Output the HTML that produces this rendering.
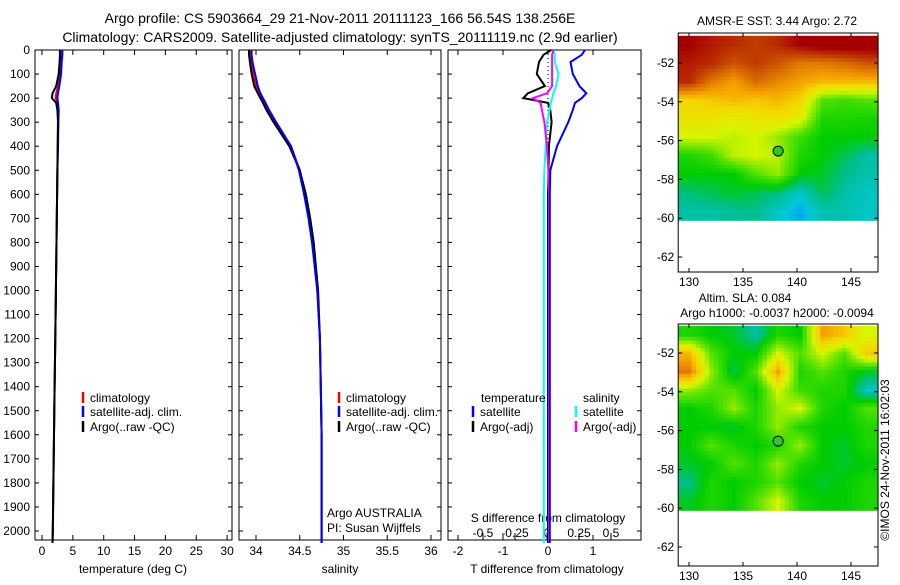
<!DOCTYPE html>
<html><head><meta charset="utf-8"><style>
body{margin:0;background:#fff;}
svg text{font-family:"Liberation Sans",sans-serif;font-size:12px;fill:#000;}
</style></head><body>
<svg id="fig" width="900" height="580" xmlns="http://www.w3.org/2000/svg">
<text x="340" y="23" text-anchor="middle" style="font-size:14px">Argo profile: CS 5903664_29 21-Nov-2011 20111123_166 56.54S 138.256E</text>
<text x="340" y="42" text-anchor="middle" style="font-size:14px">Climatology: CARS2009. Satellite-adjusted climatology: synTS_20111119.nc (2.9d earlier)</text>
<g id="g"></g>
</svg>
<script>
const depths=[0,20,50,100,150,180,200,220,250,300,400,500,600,700,800,1000,1200,1400,1600,1800,2000,2050];
const tempArgo=[2.9,2.9,2.85,2.7,2.3,1.7,1.6,2.3,2.5,2.6,2.55,2.5,2.45,2.4,2.35,2.25,2.15,2.05,1.95,1.85,1.75,1.7];
const tempClim=[3.1,3.05,3.0,2.9,2.6,2.3,2.2,2.5,2.6,2.6,2.55,2.5,2.45,2.4,2.35,2.25,2.15,2.05,1.95,1.85,1.75,1.7];
const tempSat=[3.3,3.3,3.2,3.1,2.8,2.6,2.5,2.6,2.7,2.65,2.6,2.5,2.45,2.4,2.35,2.25,2.15,2.05,1.95,1.85,1.75,1.7];
const salArgo=[33.92,33.92,33.93,33.95,33.98,34.02,34.05,34.08,34.12,34.2,34.38,34.5,34.57,34.62,34.66,34.71,34.73,34.74,34.75,34.75,34.75,34.75];
const salClim=[33.93,33.93,33.94,33.97,34.0,34.04,34.07,34.1,34.14,34.22,34.4,34.5,34.56,34.61,34.65,34.7,34.73,34.74,34.75,34.75,34.75,34.75];
const salSat=[33.95,33.95,33.96,33.99,34.02,34.05,34.08,34.11,34.15,34.23,34.4,34.49,34.55,34.6,34.64,34.7,34.73,34.74,34.75,34.75,34.75,34.75];
const tDiffArgo=[0.07,-0.1,-0.2,-0.25,-0.07,-0.45,-0.55,0.0,0.05,0.08,0.02,0.01,0,0,0,0,0,0,0,0,0,0];
const tDiffSat=[0.82,0.75,0.5,0.55,0.7,0.85,0.75,0.6,0.55,0.45,0.2,0.05,0.04,0.04,0.04,0.04,0.04,0.04,0.04,0.04,0.04,0.04];
const sDiffArgo=[0.05,0.04,0.04,0.04,0.04,0.0,-0.11,-0.05,-0.04,-0.02,0.0,0.01,0.015,0.015,0.015,0.015,0.015,0.015,0.015,0.015,0.015,0.015];
const sDiffSat=[0.05,0.06,0.06,0.09,0.07,0.05,0.04,0.03,0.02,0.0,-0.01,-0.02,-0.025,-0.025,-0.025,-0.025,-0.025,-0.025,-0.025,-0.025,-0.025,-0.025];
const depthTicks=[0,100,200,300,400,500,600,700,800,900,1000,1100,1200,1300,1400,1500,1600,1700,1800,1900,2000];
const tempTicks=[0,5,10,15,20,25,30];
const salTicks=[34,34.5,35,35.5,36];
const tDiffTicks=[-2,-1,0,1];
const sDiffTicks=[-0.5,-0.25,0,0.25,0.5];
const lonTicks=[130,135,140,145];
const latTicks=[-52,-54,-56,-58,-60,-62];
const sstGrid=[
[0.95,0.92,0.9,0.88,0.9,0.95,0.98,0.98,0.98],
[0.92,0.9,0.85,0.88,0.85,0.8,0.8,0.82,0.85],
[0.9,0.8,0.75,0.82,0.78,0.75,0.72,0.72,0.72],
[0.68,0.7,0.72,0.7,0.72,0.68,0.5,0.48,0.5],
[0.65,0.65,0.62,0.65,0.66,0.62,0.45,0.45,0.44],
[0.6,0.6,0.58,0.6,0.55,0.48,0.42,0.42,0.42],
[0.45,0.48,0.58,0.6,0.58,0.45,0.42,0.38,0.33],
[0.42,0.42,0.42,0.5,0.55,0.42,0.4,0.35,0.32],
[0.36,0.38,0.4,0.38,0.36,0.3,0.38,0.33,0.3],
[0.33,0.33,0.34,0.35,0.3,0.25,0.32,0.32,0.3]];
const slaGrid=[
[0.45,0.42,0.4,0.33,0.45,0.42,0.75,0.7,0.6],
[0.72,0.5,0.42,0.42,0.6,0.5,0.6,0.5,0.7],
[0.8,0.55,0.38,0.5,0.75,0.45,0.5,0.45,0.4],
[0.55,0.5,0.5,0.42,0.6,0.48,0.45,0.45,0.3],
[0.42,0.45,0.55,0.45,0.55,0.6,0.45,0.42,0.5],
[0.42,0.42,0.4,0.45,0.55,0.45,0.42,0.42,0.45],
[0.42,0.5,0.45,0.42,0.45,0.55,0.42,0.4,0.45],
[0.4,0.42,0.5,0.45,0.55,0.45,0.42,0.4,0.42],
[0.35,0.45,0.42,0.45,0.5,0.42,0.4,0.42,0.45],
[0.4,0.45,0.42,0.5,0.6,0.45,0.42,0.42,0.45]];
const argoLon=138.256, argoLat=-56.54;

const NS="http://www.w3.org/2000/svg", G=document.getElementById('g');
function mk(t,a,p){const e=document.createElementNS(NS,t);for(const k in a)e.setAttribute(k,a[k]);(p||G).appendChild(e);return e;}
function txt(x,y,s,anc,p){const e=mk('text',{x:x,y:y,'text-anchor':anc||'middle'},p);e.textContent=s;return e;}
const yD=d=>50+d*0.2405;
const xT=v=>42+v*6.17, xS=v=>256+(v-34)*87.5, xTD=v=>548+v*45, xSD=v=>547+v*128;

function panel(x0,x1,name){
  const r=mk('rect',{x:x0,y:50,width:x1-x0,height:490,fill:'none',stroke:'#000'});
  
  
}
function line(xf,vals,col,name){
  const pts=depths.map((d,i)=>xf(vals[i]).toFixed(1)+','+yD(d).toFixed(1)).join(' ');
  const e=mk('polyline',{points:pts,fill:'none',stroke:col,'stroke-width':2});
  
  
}
panel(35,232,'temperature-panel');panel(239,441,'salinity-panel');panel(448,641,'difference-panel');
depthTicks.forEach(d=>{
  const t=txt(30,yD(d)+4,String(d),'end');
  
  
  [[35,232],[239,441],[448,641]].forEach(([a,b])=>{mk('line',{x1:a,x2:a+4,y1:yD(d),y2:yD(d),stroke:'#000'});mk('line',{x1:b,x2:b-4,y1:yD(d),y2:yD(d),stroke:'#000'});});
});
function xticks(vals,f,y,lab){
  vals.forEach(v=>{const x=f(v);
    mk('line',{x1:x,x2:x,y1:540,y2:535,stroke:'#000'});mk('line',{x1:x,x2:x,y1:50,y2:55,stroke:'#000'});
    const t=txt(x,y,String(v));
    
    
  });
}
xticks(tempTicks,xT,555,'temp-tick-label');
xticks(salTicks,xS,555,'salinity-tick-label');
xticks(tDiffTicks,xTD,555,'tdiff-tick-label');
sDiffTicks.forEach(v=>{const x=xSD(v);mk('line',{x1:x,x2:x,y1:540,y2:533,stroke:'#000'});
  const t=txt(x,537,String(v));});
mk('line',{x1:548,x2:548,y1:50,y2:540,stroke:'#000','stroke-dasharray':'1,3'});
[['temperature (deg C)',133],['salinity',340],['T difference from climatology',547]].forEach(([s,x])=>{const t=txt(x,573,s);});
const sdt=txt(548,522,'S difference from climatology');

line(xT,tempClim,'#f00','temp-climatology-line');line(xT,tempSat,'#00f','temp-satellite-line');line(xT,tempArgo,'#000','temp-argo-line');
line(xS,salClim,'#f00','sal-climatology-line');line(xS,salArgo,'#000','sal-argo-line');line(xS,salSat,'#00f','sal-satellite-line');
line(xTD,tDiffArgo,'#000','tdiff-argo-line');
line(xSD,sDiffSat,'#0ff','sdiff-satellite-line');line(xSD,sDiffArgo,'#f0f','sdiff-argo-line');
line(xTD,tDiffSat,'#00f','tdiff-satellite-line');

function leg(x,y,col,s,name){mk('line',{x1:x,x2:x,y1:y-10,y2:y+1,stroke:col,'stroke-width':2.5});const t=txt(x+7,y,s,'start');}
[[83],[339]].forEach(([x])=>{leg(x,402,'#f00','climatology','legend-climatology');leg(x,416,'#00f','satellite-adj. clim.','legend-satellite');leg(x,431,'#000','Argo(..raw -QC)','legend-argo');});
txt(481,402,'temperature','start');leg(473,416,'#00f','satellite','legend-t-satellite');leg(473,431,'#000','Argo(-adj)','legend-t-argo');
txt(583,402,'salinity','start');leg(576,416,'#0ff','satellite','legend-s-satellite');leg(576,431,'#f0f','Argo(-adj)','legend-s-argo');
txt(327,517,'Argo AUSTRALIA','start');txt(327,532,'PI: Susan Wijffels','start');

const stops=[[0.2,[0,120,255]],[0.28,[0,200,220]],[0.35,[0,190,140]],[0.42,[0,205,0]],[0.5,[80,225,0]],[0.6,[215,245,0]],[0.68,[245,215,0]],[0.75,[245,160,0]],[0.85,[205,85,0]],[0.95,[165,0,0]]];
function cmap(v){if(v<=stops[0][0])return stops[0][1];for(let i=1;i<stops.length;i++){if(v<=stops[i][0]){const [a,ca]=stops[i-1],[b,cb]=stops[i],t=(v-a)/(b-a);return ca.map((c,k)=>Math.round(c+(cb[k]-c)*t));}}return stops[stops.length-1][1];}
function sample(grid,fr,fc){
  const R=grid.length-1,C=grid[0].length-1;
  fr=Math.max(0,Math.min(R,fr));fc=Math.max(0,Math.min(C,fc));
  const r0=Math.floor(fr),c0=Math.floor(fc),r1=Math.min(R,r0+1),c1=Math.min(C,c0+1),tr=fr-r0,tc=fc-c0;
  const a=grid[r0][c0]*(1-tc)+grid[r0][c1]*tc, b=grid[r1][c0]*(1-tc)+grid[r1][c1]*tc;
  return a*(1-tr)+b*tr;
}
function mapPanel(y0,top,bottom,grid,name){
  const xL=v=>689+(v-130)*10.8, yL=v=>top+(-52-v)*19.4;
  const lon0=129, lon1=147.5, lat0=-50.6, lat1=-60.1;
  const rows=grid.length, cols=grid[0].length, sub=5;
  const NR=rows*sub, NC=cols*sub, cw=(lon1-lon0)/NC, rh=(lat0-lat1)/NR;
  for(let r=0;r<NR;r++)for(let c=0;c<NC;c++){
    const v=sample(grid,(r+0.5)/sub-0.5,(c+0.5)/sub-0.5);
    const x=xL(lon0+c*cw), y=yL(lat0-r*rh), c2=cmap(v);
    const e=mk('rect',{x:x.toFixed(1),y:y.toFixed(1),width:(cw*10.8+0.6).toFixed(1),height:(rh*19.4+0.6).toFixed(1),fill:'rgb('+c2+')'});
    
    
  }
  const f=mk('rect',{x:xL(lon0),y:y0,width:xL(lon1)-xL(lon0),height:bottom-y0,fill:'none',stroke:'#000'});
  
  lonTicks.forEach(v=>{const x=xL(v);mk('line',{x1:x,x2:x,y1:bottom,y2:bottom-4,stroke:'#000'});mk('line',{x1:x,x2:x,y1:y0,y2:y0+4,stroke:'#000'});
    const t=txt(x,bottom+14,String(v));});
  latTicks.forEach(v=>{const y=yL(v);mk('line',{x1:xL(lon0),x2:xL(lon0)+4,y1:y,y2:y,stroke:'#000'});mk('line',{x1:xL(lon1),x2:xL(lon1)-4,y1:y,y2:y,stroke:'#000'});
    const t=txt(xL(lon0)-4,y+4,String(v),'end');});
  const m=mk('circle',{cx:xL(argoLon),cy:yL(argoLat),r:5,fill:'rgb(40,200,40)',stroke:'#000'});
  
}
mapPanel(33,63,272,sstGrid,'sst-map');
mapPanel(324,353,566,slaGrid,'sla-map');
txt(777,25,'AMSR-E SST: 3.44 Argo: 2.72');
txt(745,302,'Altim. SLA: 0.084');
txt(777,317,'Argo h1000: -0.0037 h2000: -0.0094');
const ts=txt(0,0,'©IMOS 24-Nov-2011 16:02:03');ts.setAttribute('transform','translate(889,460) rotate(-90)');

</script>
</body></html>
